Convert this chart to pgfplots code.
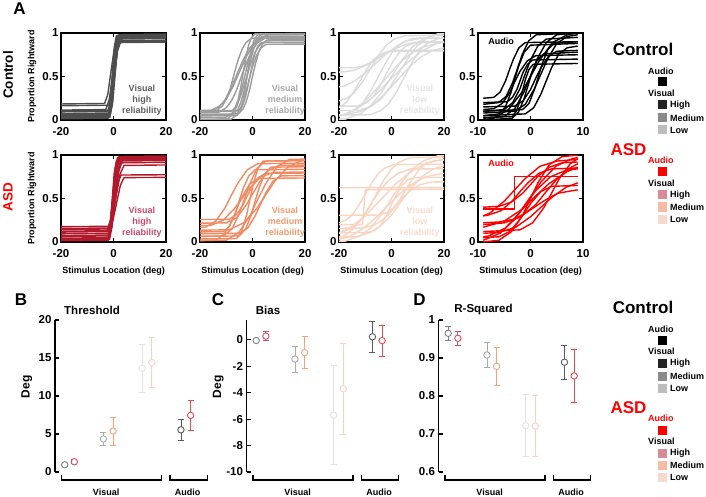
\documentclass[border=0pt]{standalone}
\usepackage{fontspec}
\setmainfont{Liberation Sans}
\usepackage{pgfplots}
\pgfplotsset{compat=1.18}

\definecolor{cHi}{HTML}{4D4D4D}
\definecolor{cMe}{HTML}{9C9C9C}
\definecolor{cLo}{HTML}{DBDBDB}
\definecolor{aHi}{HTML}{B2182B}
\definecolor{aMe}{HTML}{EF8A62}
\definecolor{aLo}{HTML}{F8D4C2}
\definecolor{tcHi}{HTML}{5E5E5E}
\definecolor{tcMe}{HTML}{A8A8A8}
\definecolor{tcLo}{HTML}{E4E4E4}
\definecolor{taHi}{HTML}{C9486A}
\definecolor{taMe}{HTML}{F39A6E}
\definecolor{taLo}{HTML}{FADCCB}
\definecolor{lcHi}{HTML}{222222}
\definecolor{lcMe}{HTML}{8A8A8A}
\definecolor{lcLo}{HTML}{BDBDBD}
\definecolor{laHi}{HTML}{D98A97}
\definecolor{laMe}{HTML}{F5BBA3}
\definecolor{laLo}{HTML}{F6DACD}
\definecolor{mcHi}{HTML}{7F7F7F}
\definecolor{maHi}{HTML}{CC4E69}
\definecolor{mcMe}{HTML}{ABABAB}
\definecolor{maMe}{HTML}{F4A27E}
\definecolor{mcLo}{HTML}{E2E2E2}
\definecolor{maLo}{HTML}{F7D3C3}
\definecolor{mcAu}{HTML}{5A5A5A}
\definecolor{maAu}{HTML}{F04848}

\newcommand{\fs}[1]{\fontsize{#1}{#1}\selectfont\bfseries}

\pgfplotsset{
  psy/.style={scale only axis, width=105pt, height=87pt, anchor=north west,
    xmin=-20, xmax=20, ymin=0, ymax=1,
    xtick={-20,0,20}, xticklabels={-20,0,20},
    ytick={0,0.5,1}, yticklabels={0,0.5,1},
    tick align=inside, major tick length=4pt,
    axis line style={line width=1.3pt},
    every tick/.style={black, line width=1.1pt},
    tick label style={font=\fs{11.5}},
    xticklabel style={yshift=-4pt},
    yticklabel style={xshift=1pt},
    no markers,
    every axis plot/.append style={line width=1.4pt, line join=round},
    ylabel style={at={(rel axis cs:-0.276,0.5)}, anchor=center, font=\fs{9}},
    xlabel style={at={(rel axis cs:0.5,-0.333)}, anchor=center, font=\fs{9}},
  },
  psyA/.style={psy, xmin=-10, xmax=10, xtick={-10,0,10}, xticklabels={-10,0,10}},
  bot/.style={scale only axis, width=155pt, height=152pt, anchor=north west,
    xmin=0.75, xmax=4.75, axis x line=none, axis y line*=left,
    tick align=inside, major tick length=4pt,
    axis line style={line width=1.3pt},
    every tick/.style={black, line width=1.1pt},
    tick label style={font=\fs{11.5}},
    clip=false,
    ylabel style={at={(rel axis cs:-0.182,0.56)}, anchor=center, font=\fs{12}},
  },
}

\newcommand{\errpt}[4]{\addplot[only marks, mark=*, mark size=3.2pt,
  mark options={draw=#1, fill=white, line width=0.9pt},
  error bars/.cd, y dir=both, y explicit,
  error bar style={draw=#1, line width=0.8pt},
  error mark options={rotate=90, draw=#1, mark size=3pt, line width=0.8pt}]
  coordinates {(#2,#3) +- (0,#4)};}

\begin{document}
\begin{tikzpicture}
\useasboundingbox (0pt,0pt) rectangle (706pt,496pt);

% ---------------- Row 1: Control ----------------
\begin{axis}[psy, at={(61pt,463pt)}, ylabel={Proportion Rightward}]
\addplot[cHi] coordinates {(-60,0)(-2,.02)(-1,.16)(0,.5)(1,.84)(2,.98)(60,1)};
\addplot[cHi] coordinates {(-60,.02)(-2.1,.04)(-1.3,.17)(-0.5,.51)(0.3,.84)(1.1,.97)(60,.99)};
\addplot[cHi] coordinates {(-60,.04)(-2.1,.06)(-0.9,.19)(0.3,.51)(1.5,.83)(2.7,.96)(60,.98)};
\addplot[cHi] coordinates {(-60,.06)(-1.6,.08)(-0.9,.21)(-0.2,.52)(0.5,.83)(1.2,.95)(60,.97)};
\addplot[cHi] coordinates {(-60,.08)(-1.5,.10)(-0.5,.22)(0.5,.52)(1.5,.82)(2.5,.94)(60,.96)};
\addplot[cHi] coordinates {(-60,.10)(-2.9,.12)(-1.6,.24)(-0.3,.53)(1.0,.81)(2.3,.93)(60,.95)};
\addplot[cHi] coordinates {(-60,.03)(-1.7,.05)(-0.8,.18)(0.1,.52)(1.0,.85)(1.9,.98)(60,1)};
\addplot[cHi] coordinates {(-60,.17)(-3.4,.19)(-2.2,.29)(-1.0,.55)(0.2,.80)(1.4,.90)(60,.92)};
\addplot[cHi] coordinates {(-60,.15)(-1.8,.17)(-0.7,.27)(0.4,.53)(1.5,.79)(2.6,.89)(60,.91)};
\addplot[cHi] coordinates {(-60,.01)(-1.4,.03)(-0.6,.16)(0.2,.49)(1.0,.82)(1.8,.95)(60,.97)};
\addplot[cHi] coordinates {(-60,.09)(-2.1,.11)(-1.1,.22)(-0.1,.51)(0.9,.80)(1.9,.91)(60,.93)};
\addplot[cHi] coordinates {(-60,.05)(-1.2,.07)(-0.3,.20)(0.6,.52)(1.5,.84)(2.4,.97)(60,.99)};
\node[align=center, font=\fontsize{9}{11}\selectfont\bfseries, text=tcHi] at (rel axis cs:0.77,0.23) {Visual\\high\\reliability};
\end{axis}

\begin{axis}[psy, at={(200pt,463pt)}]
\addplot[cMe] coordinates {(-60,0)(-9.6,.01)(-7.5,.07)(-6,.16)(-4.5,.31)(-3,.50)(-1.5,.69)(0,.84)(1.5,.93)(3.6,.99)(60,1)};
\addplot[cMe] coordinates {(-60,.05)(-7.5,.06)(-5.75,.11)(-4.5,.20)(-3.25,.33)(-2,.51)(-0.75,.69)(0.5,.82)(1.75,.91)(3.5,.96)(60,.97)};
\addplot[cMe] coordinates {(-60,.08)(-12.8,.09)(-10,.14)(-8,.22)(-6,.35)(-4,.52)(-2,.68)(0,.81)(2,.89)(4.8,.94)(60,.95)};
\addplot[cMe] coordinates {(-60,.10)(-5.4,.11)(-4,.15)(-3,.23)(-2,.35)(-1,.50)(0,.65)(1,.77)(2,.85)(3.4,.89)(60,.90)};
\addplot[cMe] coordinates {(-60,.10)(-16,.11)(-12.5,.16)(-10,.24)(-7.5,.38)(-5,.55)(-2.5,.72)(0,.85)(2.5,.93)(6,.98)(60,.99)};
\addplot[cMe] coordinates {(-60,.02)(-10.2,.03)(-7.75,.08)(-6,.16)(-4.25,.30)(-2.5,.47)(-0.75,.64)(1,.78)(2.75,.86)(5.2,.91)(60,.92)};
\addplot[cMe] coordinates {(-60,.09)(-7.9,.10)(-6.5,.15)(-5.5,.23)(-4.5,.37)(-3.5,.55)(-2.5,.72)(-1.5,.86)(-0.5,.94)(0.9,.99)(60,1)};
\addplot[cMe] coordinates {(-60,0)(-8.1,.01)(-6,.06)(-4.5,.14)(-3,.27)(-1.5,.44)(0,.61)(1.5,.74)(3,.82)(5.1,.87)(60,.88)};
\addplot[cMe] coordinates {(-60,.09)(-15.9,.10)(-12.75,.15)(-10.5,.23)(-8.25,.36)(-6,.52)(-3.75,.68)(-1.5,.81)(0.75,.89)(3.9,.94)(60,.95)};
\addplot[cMe] coordinates {(-60,.04)(-6,.05)(-4.7,.10)(-3.8,.19)(-2.9,.33)(-2,.52)(-1.1,.70)(-0.2,.84)(0.7,.93)(2,.98)(60,.99)};
\addplot[cMe] coordinates {(-60,.06)(-5.5,.07)(-3.75,.12)(-2.5,.20)(-1.25,.33)(0,.50)(1.25,.66)(2.5,.79)(3.75,.87)(5.5,.92)(60,.93)};
\addplot[cMe] coordinates {(-60,.10)(-13.6,.11)(-11.5,.16)(-10,.24)(-8.5,.36)(-7,.53)(-5.5,.69)(-4,.81)(-2.5,.89)(-0.4,.94)(60,.95)};
\node[align=center, font=\fontsize{9}{11}\selectfont\bfseries, text=tcMe] at (rel axis cs:0.81,0.23) {Visual\\medium\\reliability};
\end{axis}

\begin{axis}[psy, at={(339pt,463pt)}]
\addplot[cLo] coordinates {(-60,0)(-17.6,.01)(-12,.07)(-8,.16)(-4,.31)(0,.50)(4,.69)(8,.84)(12,.93)(17.6,.99)(60,1)};
\addplot[cLo] coordinates {(-60,.05)(-18.2,.06)(-14,.11)(-11,.19)(-8,.33)(-5,.50)(-2,.67)(1,.81)(4,.89)(8.2,.94)(60,.95)};
\addplot[cLo] coordinates {(-60,.10)(-12.4,.11)(-7.5,.16)(-4,.24)(-0.5,.38)(3,.55)(6.5,.72)(10,.86)(13.5,.94)(18.4,.99)(60,1)};
\addplot[cLo] coordinates {(-60,0)(-25,.01)(-18,.06)(-13,.14)(-8,.28)(-3,.45)(2,.62)(7,.76)(12,.84)(19,.89)(60,.90)};
\addplot[cLo] coordinates {(-60,.20)(-21.2,.21)(-17,.25)(-14,.32)(-11,.44)(-8,.59)(-5,.74)(-2,.86)(1,.93)(5.2,.97)(60,.98)};
\addplot[cLo] coordinates {(-60,.05)(-17.8,.06)(-11.5,.10)(-7,.18)(-2.5,.30)(2,.45)(6.5,.60)(11,.72)(15.5,.80)(21.8,.84)(60,.85)};
\addplot[cLo] coordinates {(-60,.35)(-23.6,.36)(-18,.39)(-14,.45)(-10,.54)(-6,.65)(-2,.76)(2,.85)(6,.91)(11.6,.94)(60,.95)};
\addplot[cLo] coordinates {(-60,.15)(-13,.16)(-9.5,.20)(-7,.27)(-4.5,.38)(-2,.53)(0.5,.67)(3,.78)(5.5,.85)(9,.89)(60,.90)};
\addplot[cLo] coordinates {(-60,.05)(-8.2,.06)(-4,.11)(-1,.19)(2,.33)(5,.50)(8,.67)(11,.81)(14,.89)(18.2,.94)(60,.95)};
\addplot[cLo] coordinates {(-60,.55)(-19.4,.55)(-14.5,.57)(-11,.61)(-7.5,.66)(-4,.73)(-0.5,.79)(3,.84)(6.5,.88)(11.4,.90)(60,.90)};
\addplot[cLo] coordinates {(-60,0)(-26.4,.01)(-18,.06)(-12,.15)(-6,.29)(0,.48)(6,.66)(12,.80)(18,.89)(26.4,.94)(60,.95)};
\addplot[cLo] coordinates {(-60,.10)(-23,.11)(-19.5,.15)(-17,.21)(-14.5,.32)(-12,.45)(-9.5,.58)(-7,.69)(-4.5,.75)(-1,.79)(60,.80)};
\addplot[cLo] coordinates {(-60,.60)(-14,.60)(-11,.62)(-8,.66)(-5,.72)(-2,.77)(1,.80)(60,.80)};
\node[align=center, font=\fontsize{9}{11}\selectfont\bfseries, text=tcLo] at (rel axis cs:0.77,0.23) {Visual\\low\\reliability};
\end{axis}

\begin{axis}[psyA, at={(478pt,463pt)}]
\addplot[black] coordinates {(-9,.05)(-6,.07)(-4.8,.15)(-3.75,.31)(-3,.47)(-2.25,.62)(-1.2,.78)(0,.86)(9,.88)};
\addplot[black] coordinates {(-9,.10)(-5,.12)(-3.4,.20)(-2,.36)(-1,.53)(0,.69)(1.4,.85)(3,.93)(9,.95)};
\addplot[black] coordinates {(-9,.02)(-5,.04)(-3,.13)(-1.25,.32)(0,.51)(1.25,.70)(3,.89)(5,.98)(9,1)};
\addplot[black] coordinates {(-9,.20)(-4.4,.21)(-3.44,.26)(-2.6,.35)(-2,.45)(-1.4,.55)(-0.56,.64)(0.4,.69)(9,.70)};
\addplot[black] coordinates {(-9,.15)(-3,.16)(-1.4,.22)(0,.35)(1,.48)(2,.60)(3.4,.73)(5,.79)(9,.80)};
\addplot[black] coordinates {(-9,.25)(-7,.26)(-5.8,.32)(-4.75,.45)(-4,.58)(-3.25,.70)(-2.2,.83)(-1,.89)(9,.90)};
\addplot[black] coordinates {(-9,.08)(-3,.10)(-1,.18)(0.75,.36)(2,.53)(3.25,.70)(5,.88)(7,.96)(9,.98)};
\addplot[black] coordinates {(-9,.03)(-3.5,.04)(-2.7,.10)(-2,.22)(-1.5,.34)(-1,.46)(-0.3,.58)(0.5,.64)(9,.65)};
\addplot[black] coordinates {(-9,0)(-7,.02)(-4.2,.12)(-1.75,.31)(0,.50)(1.75,.69)(4.2,.89)(7,.98)(9,1)};
\addplot[black] coordinates {(-9,.12)(-7,.13)(-5.4,.19)(-4,.31)(-3,.44)(-2,.56)(-0.6,.68)(1,.74)(9,.75)};
\addplot[black] coordinates {(-9,.05)(-1,.07)(0.6,.14)(2,.30)(3,.45)(4,.60)(5.4,.76)(7,.83)(9,.85)};
\addplot[black] coordinates {(-9,.18)(-6.1,.20)(-4.66,.27)(-3.4,.43)(-2.5,.59)(-1.6,.75)(-0.34,.91)(1.1,.98)(9,1)};
\addplot[black] coordinates {(-9,.10)(-1.5,.12)(-0.3,.19)(0.75,.35)(1.5,.50)(2.25,.65)(3.3,.81)(4.5,.88)(9,.90)};
\addplot[black] coordinates {(-9,0)(-3.5,.02)(-2.3,.09)(-1.25,.24)(-0.5,.39)(0.25,.54)(1.3,.69)(2.5,.76)(9,.78)};
\node[font=\fs{9}, text=black] at (rel axis cs:0.22,0.9) {Audio};
\end{axis}

% ---------------- Row 2: ASD ----------------
\begin{axis}[psy, at={(61pt,341pt)}, ylabel={Proportion Rightward}, xlabel={Stimulus Location (deg)}]
\addplot[aHi] coordinates {(-60,0)(-2,.02)(-1,.16)(0,.5)(1,.84)(2,.98)(60,1)};
\addplot[aHi] coordinates {(-60,.02)(-1.9,.04)(-0.7,.17)(0.5,.50)(1.7,.83)(2.9,.96)(60,.98)};
\addplot[aHi] coordinates {(-60,.05)(-2.1,.07)(-1.2,.20)(-0.3,.52)(0.6,.84)(1.5,.97)(60,.99)};
\addplot[aHi] coordinates {(-60,.08)(-1.8,.10)(-0.5,.22)(0.8,.52)(2.1,.82)(3.4,.94)(60,.96)};
\addplot[aHi] coordinates {(-60,.10)(-1.8,.12)(-0.8,.24)(0.2,.54)(1.2,.83)(2.2,.95)(60,.97)};
\addplot[aHi] coordinates {(-60,.13)(-2,.15)(-0.5,.25)(1,.52)(2.5,.78)(4,.88)(60,.90)};
\addplot[aHi] coordinates {(-60,.17)(-1.9,.18)(-0.7,.27)(0.5,.48)(1.7,.68)(2.9,.77)(60,.78)};
\addplot[aHi] coordinates {(-60,.15)(-1.6,.16)(-0.2,.25)(1.2,.45)(2.6,.65)(4.0,.74)(60,.75)};
\addplot[aHi] coordinates {(-60,.03)(-2.1,.05)(-1.3,.18)(-0.5,.49)(0.3,.80)(1.1,.93)(60,.95)};
\addplot[aHi] coordinates {(-60,.01)(-1.5,.03)(-0.6,.17)(0.3,.51)(1.2,.84)(2.1,.98)(60,1)};
\addplot[aHi] coordinates {(-60,.06)(-1.6,.08)(-0.5,.20)(0.6,.50)(1.7,.79)(2.8,.91)(60,.93)};
\addplot[aHi] coordinates {(-60,.11)(-2.4,.13)(-1.2,.25)(0,.55)(1.2,.85)(2.4,.97)(60,.99)};
\node[align=center, font=\fontsize{9}{11}\selectfont\bfseries, text=taHi] at (rel axis cs:0.77,0.23) {Visual\\high\\reliability};
\end{axis}

\begin{axis}[psy, at={(200pt,341pt)}, xlabel={Stimulus Location (deg)}]
\addplot[aMe] coordinates {(-60,.05)(-11,.07)(-7.8,.15)(-5,.33)(-3,.50)(-1,.67)(1.8,.85)(5,.93)(60,.95)};
\addplot[aMe] coordinates {(-60,.20)(-10,.22)(-6,.28)(-2.5,.42)(0,.55)(2.5,.68)(6,.82)(10,.88)(60,.90)};
\addplot[aMe] coordinates {(-60,.10)(-11,.12)(-8.6,.19)(-6.5,.33)(-5,.48)(-3.5,.62)(-1.4,.76)(1,.83)(60,.85)};
\addplot[aMe] coordinates {(-60,0)(-10,.02)(-5.2,.11)(-1,.30)(2,.49)(5,.67)(9.2,.86)(14,.95)(60,.97)};
\addplot[aMe] coordinates {(-60,.25)(-9,.26)(-6.2,.31)(-3.75,.42)(-2,.53)(-0.25,.63)(2.2,.74)(5,.79)(60,.80)};
\addplot[aMe] coordinates {(-60,.15)(-18,.17)(-14,.24)(-10.5,.39)(-8,.54)(-5.5,.68)(-2,.83)(2,.90)(60,.92)};
\addplot[aMe] coordinates {(-60,.08)(-5,.10)(-1.8,.16)(1,.30)(3,.43)(5,.56)(7.8,.70)(11,.76)(60,.78)};
\addplot[aMe] coordinates {(-60,.02)(-6,.04)(-4,.13)(-2.25,.31)(-1,.49)(0.25,.66)(2,.84)(4,.93)(60,.95)};
\addplot[aMe] coordinates {(-60,.12)(-9,.14)(-3.4,.22)(1.5,.38)(5,.54)(8.5,.70)(13.4,.86)(19,.94)(60,.96)};
\addplot[aMe] coordinates {(-60,.18)(-16,.19)(-11.2,.25)(-7,.38)(-4,.50)(-1,.62)(3.2,.75)(8,.80)(60,.82)};
\addplot[aMe] coordinates {(-60,.05)(-5,.07)(-2.6,.15)(-0.5,.31)(1,.47)(2.5,.62)(4.6,.78)(7,.86)(60,.88)};
\addplot[aMe] coordinates {(-60,0)(-14,.02)(-10.8,.09)(-8,.23)(-6,.38)(-4,.52)(-1.2,.66)(2,.73)(60,.75)};
\node[align=center, font=\fontsize{9}{11}\selectfont\bfseries, text=taMe] at (rel axis cs:0.81,0.23) {Visual\\medium\\reliability};
\end{axis}

\begin{axis}[psy, at={(339pt,341pt)}, xlabel={Stimulus Location (deg)}]
\addplot[aLo] coordinates {(-60,0)(-17.6,.01)(-12,.07)(-8,.16)(-4,.31)(0,.50)(4,.69)(8,.84)(12,.93)(17.6,.99)(60,1)};
\addplot[aLo] coordinates {(-60,.10)(-19.2,.11)(-15,.16)(-12,.24)(-9,.37)(-6,.54)(-3,.71)(0,.84)(3,.92)(7.2,.97)(60,.98)};
\addplot[aLo] coordinates {(-60,.05)(-13.6,.06)(-8,.11)(-4,.19)(0,.31)(4,.48)(8,.64)(12,.76)(16,.84)(21.6,.89)(60,.90)};
\addplot[aLo] coordinates {(-60,0)(-24,.01)(-17,.05)(-12,.13)(-7,.25)(-2,.40)(3,.55)(8,.67)(13,.75)(20,.79)(60,.80)};
\addplot[aLo] coordinates {(-60,.62)(60,.63)};
\addplot[aLo] coordinates {(-60,.20)(-11,.20)(-10,.60)(60,.62)};
\addplot[aLo] coordinates {(-60,.20)(-21,.21)(-17.5,.25)(-15,.31)(-12.5,.42)(-10,.55)(-7.5,.68)(-5,.79)(-2.5,.85)(1,.89)(60,.90)};
\addplot[aLo] coordinates {(-60,.15)(-11.2,.16)(-7,.19)(-4,.24)(-1,.32)(2,.43)(5,.53)(8,.61)(11,.66)(15.2,.69)(60,.70)};
\addplot[aLo] coordinates {(-60,0)(-30.4,.01)(-22,.07)(-16,.16)(-10,.30)(-4,.49)(2,.68)(8,.82)(14,.91)(22.4,.97)(60,.98)};
\addplot[aLo] coordinates {(-60,.30)(-5,.31)(-1.5,.34)(1,.40)(3.5,.50)(6,.63)(8.5,.75)(11,.85)(13.5,.91)(17,.94)(60,.95)};
\addplot[aLo] coordinates {(-60,0)(-23.4,.01)(-18.5,.06)(-15,.14)(-11.5,.26)(-8,.43)(-4.5,.59)(-1,.71)(2.5,.79)(7.4,.84)(60,.85)};
\addplot[aLo] coordinates {(-60,.10)(-8.8,.11)(-6,.14)(-4,.20)(-2,.30)(0,.43)(2,.55)(4,.65)(6,.71)(8.8,.74)(60,.75)};
\node[align=center, font=\fontsize{9}{11}\selectfont\bfseries, text=taLo] at (rel axis cs:0.77,0.23) {Visual\\low\\reliability};
\end{axis}

\begin{axis}[psyA, at={(478pt,341pt)}, xlabel={Stimulus Location (deg)}]
\addplot[red] coordinates {(-9,.06)(-8,.07)(-4.8,.16)(-2,.34)(0,.52)(2,.69)(4.8,.87)(8,.96)(9,.97)};
\addplot[red] coordinates {(-9,.17)(-5,.24)(-1.5,.38)(1,.53)(3.5,.67)(7,.81)(9,.86)};
\addplot[red] coordinates {(-9,.30)(-8,.31)(-5.6,.36)(-3.5,.47)(-2,.58)(-0.5,.68)(1.6,.79)(4,.84)(9,.85)};
\addplot[red] coordinates {(-9,.10)(-6,.11)(-2.8,.17)(0,.29)(2,.40)(4,.51)(6.8,.63)(9,.68)};
\addplot[red] coordinates {(-9,0)(-6,.02)(-3.6,.12)(-1.5,.31)(0,.50)(1.5,.69)(3.6,.89)(6,.98)(9,1)};
\addplot[red] coordinates {(-9,.38)(-3,.38)(-3,.75)(9,.75)};
\addplot[red] coordinates {(-9,.40)(-6,.41)(-3.6,.46)(-1.5,.56)(0,.66)(1.5,.76)(3.6,.86)(6,.91)(9,.92)};
\addplot[red] coordinates {(-9,.20)(-5,.22)(-1.8,.29)(1,.43)(3,.58)(5,.72)(7.8,.86)(9,.90)};
\addplot[red] coordinates {(-9,.05)(-6,.06)(-4,.12)(-2.25,.24)(-1,.35)(0.25,.46)(2,.58)(4,.64)(9,.65)};
\addplot[red] coordinates {(-9,.22)(-6,.23)(-3.2,.26)(-0.75,.34)(1,.41)(2.75,.48)(5.2,.56)(8,.59)(9,.60)};
\addplot[red] coordinates {(-9,.02)(-5.8,.10)(-3,.26)(-1,.43)(1,.59)(3.8,.75)(7,.83)(9,.84)};
\addplot[red] coordinates {(-9,.12)(-2,.14)(0.4,.22)(2.5,.39)(4,.56)(5.5,.73)(7.6,.90)(9,.96)};
\addplot[red] coordinates {(-9,.30)(-7.8,.33)(-5,.47)(-3,.60)(-1,.73)(1.8,.87)(5,.93)(9,.95)};
\node[font=\fs{9}, text=red] at (rel axis cs:0.22,0.9) {Audio};
\end{axis}

% ---------------- Bottom: B Threshold ----------------
\begin{axis}[bot, at={(55pt,176pt)}, ymin=0, ymax=20, ytick={0,5,10,15,20}, yticklabels={0,5,10,15,20}, ylabel={Deg}]
\errpt{mcHi}{1}{0.95}{0.15}
\errpt{maHi}{1.25}{1.35}{0.25}
\errpt{mcMe}{2}{4.35}{0.9}
\errpt{maMe}{2.25}{5.4}{1.85}
\errpt{mcLo}{3}{13.65}{3.15}
\errpt{maLo}{3.25}{14.4}{3.25}
\errpt{mcAu}{4}{5.55}{1.35}
\errpt{maAu}{4.25}{7.45}{2.0}
\draw[line width=1.3pt] ([yshift=-3pt]axis cs:0.92,0) -- ([yshift=-8pt]axis cs:0.92,0) -- ([yshift=-8pt]axis cs:3.5,0) -- ([yshift=-3pt]axis cs:3.5,0);
\draw[line width=1.3pt] ([yshift=-3pt]axis cs:3.72,0) -- ([yshift=-8pt]axis cs:3.72,0) -- ([yshift=-8pt]axis cs:4.68,0) -- ([yshift=-3pt]axis cs:4.68,0);
\node[font=\fs{9}] at ([yshift=-20pt]axis cs:2.07,0) {Visual};
\node[font=\fs{9}] at ([yshift=-20pt]axis cs:4.17,0) {Audio};
\end{axis}

% ---------------- Bottom: C Bias ----------------
\begin{axis}[bot, at={(246.5pt,176pt)}, ymin=-10, ymax=1.5, ytick={-10,-8,-6,-4,-2,0}, yticklabels={-10,-8,-6,-4,-2,0}, ylabel={Deg}]
\errpt{mcHi}{1}{-0.05}{0.1}
\errpt{maHi}{1.25}{0.28}{0.36}
\errpt{mcMe}{2}{-1.45}{0.99}
\errpt{maMe}{2.25}{-0.97}{1.22}
\errpt{mcLo}{3}{-5.7}{3.76}
\errpt{maLo}{3.25}{-3.7}{3.45}
\errpt{mcAu}{4}{0.23}{1.16}
\errpt{maAu}{4.25}{-0.06}{1.18}
\draw[line width=1.3pt] ([yshift=-3pt]axis cs:0.92,-10) -- ([yshift=-8pt]axis cs:0.92,-10) -- ([yshift=-8pt]axis cs:3.5,-10) -- ([yshift=-3pt]axis cs:3.5,-10);
\draw[line width=1.3pt] ([yshift=-3pt]axis cs:3.72,-10) -- ([yshift=-8pt]axis cs:3.72,-10) -- ([yshift=-8pt]axis cs:4.68,-10) -- ([yshift=-3pt]axis cs:4.68,-10);
\node[font=\fs{9}] at ([yshift=-20pt]axis cs:2.07,-10) {Visual};
\node[font=\fs{9}] at ([yshift=-20pt]axis cs:4.17,-10) {Audio};
\end{axis}

% ---------------- Bottom: D R-Squared ----------------
\begin{axis}[bot, at={(438.5pt,176pt)}, ymin=0.6, ymax=1, ytick={0.6,0.7,0.8,0.9,1}, yticklabels={0.6,0.7,0.8,0.9,1}]
\errpt{mcHi}{1}{0.965}{0.019}
\errpt{maHi}{1.25}{0.952}{0.019}
\errpt{mcMe}{2}{0.908}{0.033}
\errpt{maMe}{2.25}{0.878}{0.05}
\errpt{mcLo}{3}{0.722}{0.081}
\errpt{maLo}{3.25}{0.721}{0.081}
\errpt{mcAu}{4}{0.889}{0.045}
\errpt{maAu}{4.25}{0.853}{0.07}
\draw[line width=1.3pt] ([yshift=-3pt]axis cs:0.92,0.6) -- ([yshift=-8pt]axis cs:0.92,0.6) -- ([yshift=-8pt]axis cs:3.5,0.6) -- ([yshift=-3pt]axis cs:3.5,0.6);
\draw[line width=1.3pt] ([yshift=-3pt]axis cs:3.72,0.6) -- ([yshift=-8pt]axis cs:3.72,0.6) -- ([yshift=-8pt]axis cs:4.68,0.6) -- ([yshift=-3pt]axis cs:4.68,0.6);
\node[font=\fs{9}] at ([yshift=-20pt]axis cs:2.07,0.6) {Visual};
\node[font=\fs{9}] at ([yshift=-20pt]axis cs:4.17,0.6) {Audio};
\end{axis}

% ---------------- Letters, titles, row labels ----------------
\node[font=\fs{17}] at (19.5pt,487pt) {A};
\node[font=\fs{17}] at (21pt,196pt) {B};
\node[font=\fs{17}] at (218pt,196pt) {C};
\node[font=\fs{17}] at (419.5pt,196pt) {D};
\node[font=\fs{11.5}] at (92pt,186pt) {Threshold};
\node[font=\fs{11.5}] at (268pt,186pt) {Bias};
\node[font=\fs{11.5}] at (483.5pt,186pt) {R-Squared};
\node[font=\fs{13.5}, rotate=90] at (8pt,421pt) {Control};
\node[font=\fs{13.5}, rotate=90, text=red] at (8pt,299pt) {ASD};

% ---------------- Legends ----------------
\foreach \dy in {0,258}{
  \node[font=\fs{17}] at (643pt,{(447-\dy)*1pt}) {Control};
  \node[font=\fs{9}, anchor=west, inner sep=0pt] at (648pt,{(425-\dy)*1pt}) {Audio};
  \fill[black] (658pt,{(409.5-\dy)*1pt}) rectangle ++(9pt,9pt);
  \node[font=\fs{9}, anchor=west, inner sep=0pt] at (648pt,{(403-\dy)*1pt}) {Visual};
  \fill[lcHi] (658pt,{(386.5-\dy)*1pt}) rectangle ++(9pt,9pt);
  \node[font=\fs{9}, anchor=west, inner sep=0pt] at (670pt,{(391-\dy)*1pt}) {High};
  \fill[lcMe] (658pt,{(373.5-\dy)*1pt}) rectangle ++(9pt,9pt);
  \node[font=\fs{9}, anchor=west, inner sep=0pt] at (670pt,{(378-\dy)*1pt}) {Medium};
  \fill[lcLo] (658pt,{(361.5-\dy)*1pt}) rectangle ++(9pt,9pt);
  \node[font=\fs{9}, anchor=west, inner sep=0pt] at (670pt,{(366-\dy)*1pt}) {Low};
  \node[font=\fs{17}, text=red] at (628.5pt,{(346-\dy)*1pt}) {ASD};
  \node[font=\fs{9}, anchor=west, inner sep=0pt, text=red] at (648pt,{(336-\dy)*1pt}) {Audio};
  \fill[red] (658pt,{(319.5-\dy)*1pt}) rectangle ++(9pt,9pt);
  \node[font=\fs{9}, anchor=west, inner sep=0pt] at (648pt,{(313-\dy)*1pt}) {Visual};
  \fill[laHi] (658pt,{(296.5-\dy)*1pt}) rectangle ++(9pt,9pt);
  \node[font=\fs{9}, anchor=west, inner sep=0pt] at (670pt,{(301-\dy)*1pt}) {High};
  \fill[laMe] (658pt,{(284.5-\dy)*1pt}) rectangle ++(9pt,9pt);
  \node[font=\fs{9}, anchor=west, inner sep=0pt] at (670pt,{(289-\dy)*1pt}) {Medium};
  \fill[laLo] (658pt,{(272.5-\dy)*1pt}) rectangle ++(9pt,9pt);
  \node[font=\fs{9}, anchor=west, inner sep=0pt] at (670pt,{(277-\dy)*1pt}) {Low};
}
\end{tikzpicture}
\end{document}
